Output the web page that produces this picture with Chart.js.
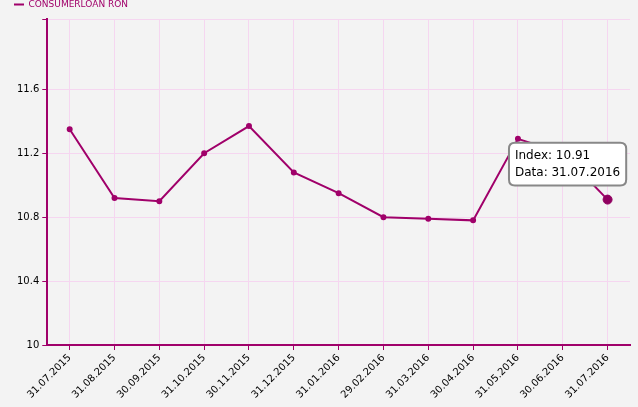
<!DOCTYPE html>
<html>
<head>
<script src="https://cdn.jsdelivr.net/npm/chart.js@4"></script>
<style>
  body { margin: 0; background: #fff; }
  #wrap { width: 638px; height: 407px; background: #f3f3f3; }
</style>
</head>
<body>
<div id="wrap"><canvas id="c" width="638" height="407"></canvas></div>
<script>
const dates = ['31.07.2015', '31.08.2015', '30.09.2015', '31.10.2015', '30.11.2015', '31.12.2015',
  '31.01.2016', '29.02.2016', '31.03.2016', '30.04.2016', '31.05.2016', '30.06.2016', '31.07.2016'];
const indexValues = [11.35, 10.92, 10.90, 11.20, 11.37, 11.08, 10.95, 10.80, 10.79, 10.78, 11.29, 11.20, 10.91];
const seriesName = 'CONSUMERLOAN RON';
const purple = '#a0006a';

Chart.Tooltip.positioners.aboveLeft = function (items) {
  if (!items.length) return false;
  return { x: items[0].element.x - 40, y: items[0].element.y - 14 };
};

const ctx = document.getElementById('c').getContext('2d');
const chart = new Chart(ctx, {
  type: 'line',
  data: {
    labels: dates,
    datasets: [{
      label: seriesName,
      data: indexValues,
      borderColor: purple,
      backgroundColor: purple,
      borderWidth: 2,
      pointRadius: 2,
      pointHoverRadius: 4.5,
      tension: 0
    }]
  },
  options: {
    responsive: false,
    animation: false,
    layout: { padding: { left: 14, right: 8, top: 0, bottom: 4 } },
    plugins: {
      legend: {
        position: 'top',
        align: 'start',
        labels: {
          boxWidth: 10, boxHeight: 0, padding: 0,
          color: purple,
          font: { family: 'Verdana, DejaVu Sans', size: 9 },
          generateLabels: (c) => [{ text: seriesName, strokeStyle: purple, fillStyle: purple, lineWidth: 2, fontColor: purple }]
        }
      },
      tooltip: {
        position: 'aboveLeft',
        yAlign: 'bottom',
        xAlign: 'center',
        backgroundColor: '#ffffff',
        borderColor: '#888',
        borderWidth: 2,
        cornerRadius: 6,
        titleColor: '#000',
        bodyColor: '#000',
        displayColors: false,
        caretSize: 0,
        caretPadding: 0,
        padding: 6,
        bodyFont: { family: 'Verdana, DejaVu Sans', size: 12 },
        callbacks: {
          title: () => '',
          label: (it) => ['Index: ' + it.raw.toFixed(2), 'Data: ' + it.label]
        }
      }
    },
    scales: {
      x: {
        offset: true,
        grid: { color: '#f5d6f0', drawTicks: true, tickColor: purple, tickLength: 5 },
        border: { color: purple, width: 2 },
        ticks: { color: '#000', maxRotation: 45, minRotation: 45, padding: 2, font: { family: 'Verdana, DejaVu Sans', size: 10 } }
      },
      y: {
        min: 10, max: 12.04,
        grid: { color: '#f5d6f0', tickColor: purple, tickLength: 5 },
        border: { color: purple, width: 2 },
        ticks: {
          stepSize: 0.4, color: '#000',
          font: { family: 'Verdana, DejaVu Sans', size: 10 },
          callback: (v) => v > 11.7 ? '' : (v === 10 ? '10' : v.toFixed(1))
        }
      }
    }
  }
});
const last = indexValues.length - 1;
const pt = chart.getDatasetMeta(0).data[last];
chart.tooltip.setActiveElements([{ datasetIndex: 0, index: last }], { x: pt.x, y: pt.y });
chart.setActiveElements([{ datasetIndex: 0, index: last }]);
chart.update();
</script>
</body>
</html>
